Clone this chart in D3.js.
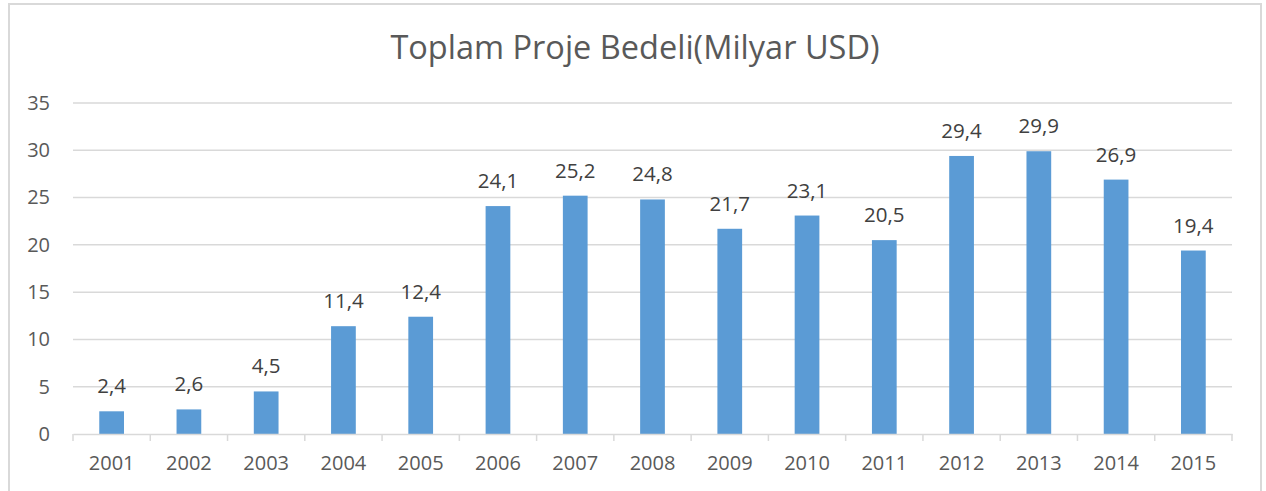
<!DOCTYPE html>
<html><head><meta charset="utf-8">
<script src="https://cdn.jsdelivr.net/npm/d3@7"></script>
<style>body{margin:0;background:#fff;}svg{display:block;font-family:"Open Sans",sans-serif;}</style>
</head><body>
<svg id="c" width="1266" height="491"></svg>
<script>
const years = ["2001","2002","2003","2004","2005","2006","2007","2008","2009","2010","2011","2012","2013","2014","2015"];
const values = [2.4,2.6,4.5,11.4,12.4,24.1,25.2,24.8,21.7,23.1,20.5,29.4,29.9,26.9,19.4];
const yTicks = [0,5,10,15,20,25,30,35];
const title = "Toplam Proje Bedeli(Milyar USD)";

const svg = d3.select("#c");
svg.append("rect").attr("x",9).attr("y",4).attr("width",1252).attr("height",500)
  .attr("fill","#fff").attr("stroke","#d9d9d9").attr("stroke-width",2);

const pLeft=73, pRight=1232, pTop=103, pBottom=434;
const x = d3.scaleBand().domain(years).range([pLeft,pRight]).paddingInner(0.68).paddingOuter(0.34);
const xb = d3.scaleBand().domain(years).range([pLeft,pRight]);
const y = d3.scaleLinear().domain([0,35]).range([pBottom,pTop]);

svg.append("text").attr("x",635).attr("y",59).attr("text-anchor","middle")
  .attr("font-size",32.5).attr("fill","#595959").text(title);

// gridlines
svg.append("g").selectAll("line").data(yTicks.filter(d=>d>0)).join("line")
  .attr("x1",pLeft).attr("x2",pRight).attr("y1",d=>y(d)).attr("y2",d=>y(d))
  .attr("stroke","#d9d9d9").attr("stroke-width",1.5);

// y labels
const ya = svg.append("g").attr("transform",`translate(${pLeft},0)`)
  .call(d3.axisLeft(y).tickValues(yTicks).tickSize(0).tickPadding(23));
ya.select(".domain").remove();
ya.selectAll("text").attr("font-size",20).attr("fill","#595959").attr("font-family","Open Sans");

// bars
svg.append("g").selectAll("rect").data(values).join("rect")
  .attr("x",(d,i)=>x(years[i])).attr("width",x.bandwidth())
  .attr("y",d=>y(d)).attr("height",d=>pBottom-y(d))
  .attr("fill","#5b9bd5");

// x axis
const xa = svg.append("g").attr("transform",`translate(0,${pBottom})`)
  .call(d3.axisBottom(xb).tickSize(0).tickPadding(22));
xa.select(".domain").attr("stroke","#d9d9d9").attr("stroke-width",1.5);
xa.selectAll("text").attr("font-size",20).attr("fill","#595959").attr("font-family","Open Sans");
svg.append("g").selectAll("line").data(years.concat(["end"])).join("line")
  .attr("x1",(d,i)=>pLeft+i*xb.bandwidth()).attr("x2",(d,i)=>pLeft+i*xb.bandwidth())
  .attr("y1",pBottom).attr("y2",pBottom+7).attr("stroke","#d9d9d9").attr("stroke-width",1.5);

// data labels
svg.append("g").selectAll("text").data(values).join("text")
  .attr("x",(d,i)=>x(years[i])+x.bandwidth()/2).attr("y",d=>y(d)-18)
  .attr("text-anchor","middle").attr("font-size",20.5).attr("fill","#404040")
  .text(d=>d.toFixed(1).replace(".",","));
</script>
</body></html>
